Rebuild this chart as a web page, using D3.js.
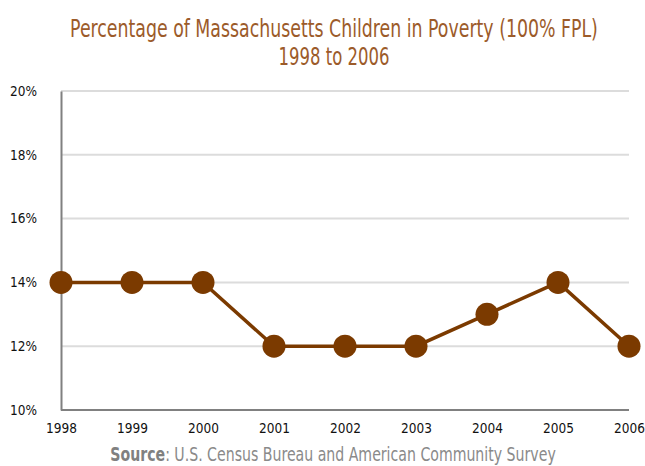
<!DOCTYPE html>
<html><head><meta charset="utf-8">
<script src="https://cdn.jsdelivr.net/npm/d3@7"></script>
<style>
body{margin:0;background:#fff;}
text{font-family:"DejaVu Sans",sans-serif;font-stretch:condensed;}
</style></head>
<body><svg id="c" width="645" height="466"></svg>
<script>
const years = ["1998","1999","2000","2001","2002","2003","2004","2005","2006"];
const values = [14,14,14,12,12,12,13,14,12];
const yTicks = [10,12,14,16,18,20];
const titleLines = ["Percentage of Massachusetts Children in Poverty (100% FPL)","1998 to 2006"];
const titleWidths = [528,111];

const svg = d3.select("#c");
const x = d3.scalePoint().domain(years).range([61,629]);
const y = d3.scaleLinear().domain([10,20]).range([410,91]);

// squeeze a centered text horizontally to a target width around cx
function fit(sel, cx, w){
  sel.each(function(){
    const n = this, L = n.getComputedTextLength();
    const k = Math.min(1, w / L);
    d3.select(n).attr("x",0).attr("transform",`translate(${cx},${n.getAttribute("data-y")}) scale(${k},1)`).attr("y",0);
  });
}

svg.append("g").selectAll("line").data(yTicks.filter(d=>d>10)).join("line")
  .attr("x1",61).attr("x2",629).attr("y1",d=>y(d)).attr("y2",d=>y(d))
  .attr("stroke","#dcdcdc").attr("stroke-width",2);

const ya = svg.append("g").attr("transform","translate(61,0)")
  .call(d3.axisLeft(y).tickValues(yTicks).tickFormat(d=>d+"%").tickSize(0).tickPadding(24));
ya.select(".domain").attr("stroke","#808080").attr("stroke-width",2);
ya.selectAll("text").attr("font-size",13.5).attr("fill","#111").attr("font-family",null);

const xa = svg.append("g").attr("transform","translate(0,410)")
  .call(d3.axisBottom(x).tickSize(0).tickPadding(13));
xa.select(".domain").attr("stroke","#808080").attr("stroke-width",2).attr("d","M61,0H629");
xa.selectAll("text").attr("font-size",13.5).attr("fill","#111").attr("font-family",null);

const line = d3.line().x((d,i)=>x(years[i])).y(d=>y(d));
svg.append("path").datum(values).attr("d",line).attr("fill","none")
  .attr("stroke","#7b3a00").attr("stroke-width",3.5);
svg.append("g").selectAll("circle").data(values).join("circle")
  .attr("cx",(d,i)=>x(years[i])).attr("cy",d=>y(d)).attr("r",11.5).attr("fill","#7b3a00");

const tt = svg.append("g").selectAll("text").data(titleLines).join("text")
  .attr("data-y",(d,i)=>37+i*28).attr("text-anchor","middle")
  .attr("font-size",24).attr("fill","#9c5b2a").text(d=>d);
tt.each(function(d,i){ fit(d3.select(this), 334, titleWidths[i]); });

const s = svg.append("text").attr("data-y",461).attr("text-anchor","middle")
  .attr("font-size",19.5).attr("fill","#8a8a8a");
s.append("tspan").attr("font-weight","bold").attr("fill","#808080").text("Source");
s.append("tspan").text(": U.S. Census Bureau and American Community Survey");
fit(s, 333, 446);
</script></body></html>
